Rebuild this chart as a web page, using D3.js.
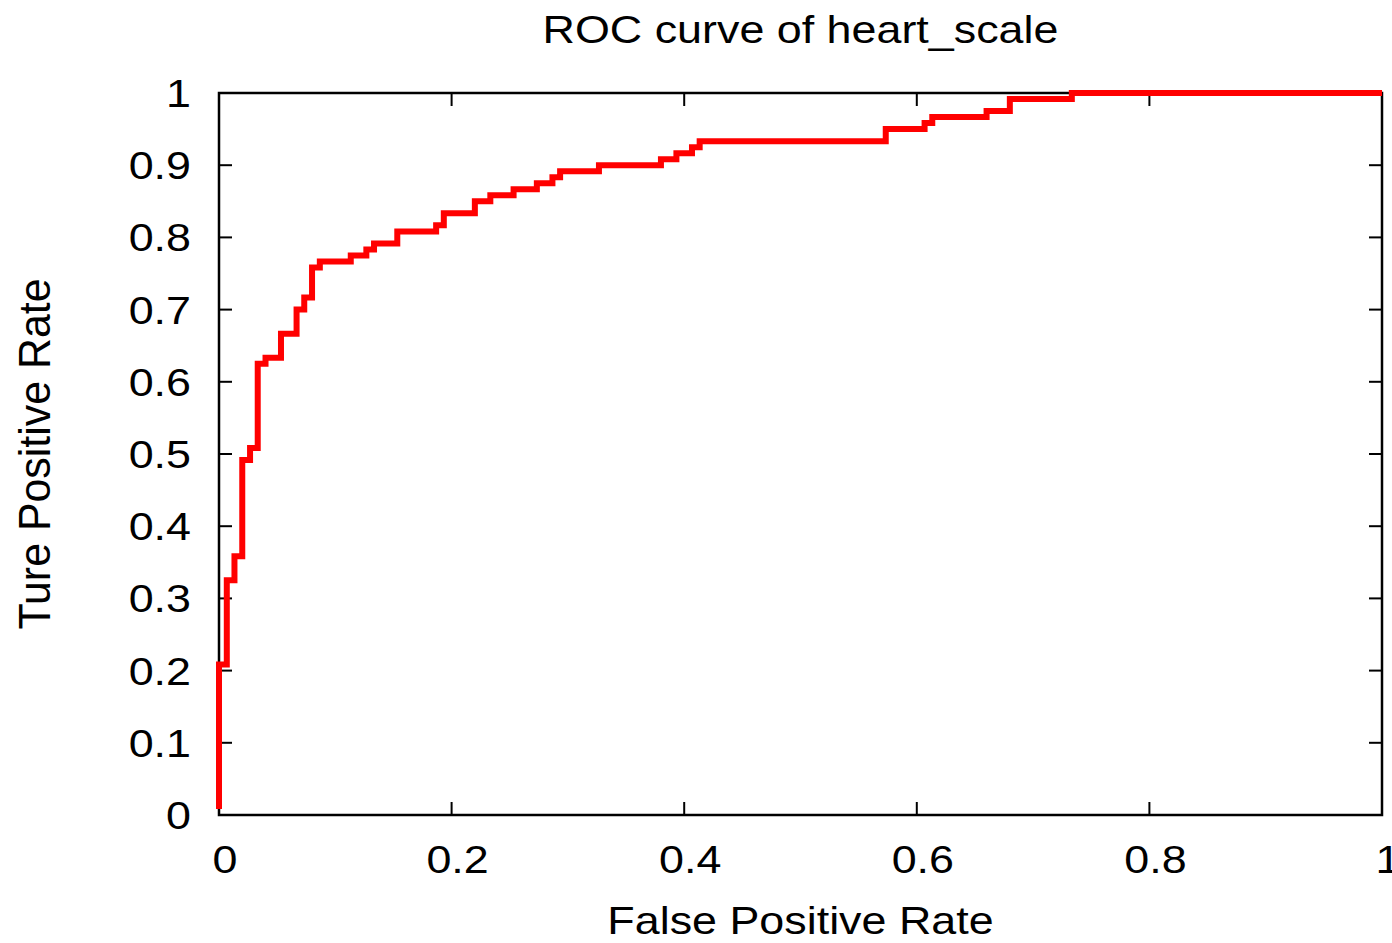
<!DOCTYPE html>
<html>
<head>
<meta charset="utf-8">
<script src="https://cdn.jsdelivr.net/npm/d3@7"></script>
<style>
  body { margin: 0; background: #fff; }
  text { font-family: "Liberation Sans", Arial, sans-serif; fill: #000; }
</style>
</head>
<body>
<div id="chart"></div>
<script>
// ROC curve of heart_scale - step points (fpr, tpr)
const fpr = [0, 0, 0.0067, 0.0133, 0.02, 0.0267, 0.0333, 0.04, 0.0533, 0.0667, 0.0733, 0.08, 0.0867,
  0.1133, 0.1267, 0.1333, 0.1533, 0.1867, 0.1933, 0.22, 0.2333, 0.2533, 0.2733, 0.2867, 0.2933,
  0.3267, 0.38, 0.3933, 0.4067, 0.4133, 0.5733, 0.6067, 0.6133, 0.66, 0.68, 0.7333, 1];
const tpr = [0.0083, 0.2083, 0.325, 0.3583, 0.4917, 0.5083, 0.625, 0.6333, 0.6667, 0.7, 0.7167, 0.7583, 0.7667,
  0.775, 0.7833, 0.7917, 0.8083, 0.8167, 0.8333, 0.85, 0.8583, 0.8667, 0.875, 0.8833, 0.8917,
  0.9, 0.9083, 0.9167, 0.925, 0.9333, 0.95, 0.9583, 0.9667, 0.975, 0.9917, 1, 1];

const xTicks = [0, 0.2, 0.4, 0.6, 0.8, 1];
const yTicks = [0, 0.1, 0.2, 0.3, 0.4, 0.5, 0.6, 0.7, 0.8, 0.9, 1];

const title = 'ROC curve of heart_scale';
const xLabel = 'False Positive Rate';
const yLabel = 'Ture Positive Rate';

const width = 1392, height = 943;
const margin = { top: 93, right: 10, bottom: 128, left: 219 };
const stretch = 1.15; // text in the original is a bit wider than tall

const svg = d3.select('#chart').append('svg')
  .attr('width', width)
  .attr('height', height);

const x = d3.scaleLinear().domain([0, 1]).range([margin.left, width - margin.right]);
const y = d3.scaleLinear().domain([0, 1]).range([height - margin.bottom, margin.top]);

// ticks on all four sides, pointing inward
const tickLen = 13;
const ticks = svg.append('g').attr('stroke', '#000').attr('stroke-width', 2);
yTicks.forEach(v => {
  ticks.append('line').attr('x1', x(0)).attr('x2', x(0) + tickLen).attr('y1', y(v)).attr('y2', y(v));
  ticks.append('line').attr('x1', x(1)).attr('x2', x(1) - tickLen).attr('y1', y(v)).attr('y2', y(v));
});
xTicks.forEach(v => {
  ticks.append('line').attr('x1', x(v)).attr('x2', x(v)).attr('y1', y(0)).attr('y2', y(0) - tickLen);
  ticks.append('line').attr('x1', x(v)).attr('x2', x(v)).attr('y1', y(1)).attr('y2', y(1) + tickLen);
});

// frame
svg.append('rect')
  .attr('x', x(0)).attr('y', y(1))
  .attr('width', x(1) - x(0)).attr('height', y(0) - y(1))
  .attr('fill', 'none').attr('stroke', '#000').attr('stroke-width', 2.5);

const fmt = d => d === 0 || d === 1 ? String(d) : d3.format('.1f')(d);

// text helper: place at (px, py), stretched like the original
function label(px, py, str, anchor, size, sx, sy, rot) {
  return svg.append('text')
    .attr('transform', `translate(${px},${py})` + (rot ? ` rotate(${rot})` : '') + ` scale(${sx},${sy})`)
    .attr('text-anchor', anchor)
    .attr('font-size', size)
    .text(str);
}

yTicks.forEach(v => label(191, y(v) + 14, fmt(v), 'end', 39, stretch, 1));
xTicks.forEach(v => label(x(v) + 6, 873, fmt(v), 'middle', 39, stretch, 1));

label((x(0) + x(1)) / 2, 43, title, 'middle', 39, stretch, 1);
label((x(0) + x(1)) / 2, 934, xLabel, 'middle', 39, stretch, 1);
label(50, (y(0) + y(1)) / 2, yLabel, 'middle', 39, 1.1, stretch, -90);

// ROC step line
const pts = fpr.map((f, i) => [f, tpr[i]]);
const line = d3.line()
  .x(d => x(d[0]))
  .y(d => y(d[1]))
  .curve(d3.curveStepAfter);

svg.append('path')
  .datum(pts)
  .attr('d', line)
  .attr('fill', 'none')
  .attr('stroke', '#ff0000')
  .attr('stroke-width', 6)
  .attr('stroke-linejoin', 'miter');
</script>
</body>
</html>
